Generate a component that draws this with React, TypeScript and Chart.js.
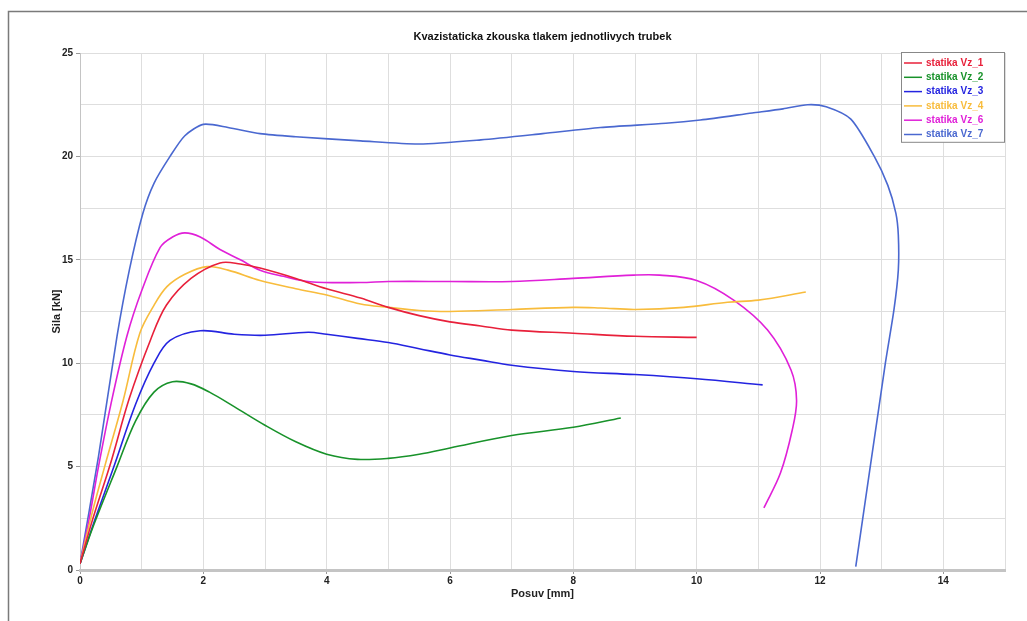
import React, { useEffect, useRef } from "react";
import { Chart, registerables } from "chart.js";

Chart.register(...registerables);

const TITLE = "Kvazistaticka zkouska tlakem jednotlivych trubek";
const X_TITLE = "Posuv [mm]";
const Y_TITLE = "Sila [kN]";

const labels = ["statika Vz_1", "statika Vz_2", "statika Vz_3", "statika Vz_4", "statika Vz_6", "statika Vz_7"];
const colors = ["#e8203a", "#18922a", "#2424e0", "#f8bc3c", "#e020d8", "#4a68d0"];

const vz1X = [0, 0.2, 0.5, 0.8, 1.14, 1.4, 1.8, 2.27, 2.6, 2.92, 3.5, 4.0, 4.55, 5.0, 5.5, 6.0, 6.5, 7, 8, 9, 10];
const vz1Y = [0.3, 2.4, 5.2, 8.3, 11.1, 12.8, 14.1, 14.85, 14.8, 14.6, 14.1, 13.6, 13.15, 12.7, 12.3, 12.0, 11.8, 11.6, 11.45, 11.3, 11.25];

const vz2X = [0, 0.2, 0.6, 0.9, 1.2, 1.5, 1.8, 2.1, 2.5, 3, 3.5, 4, 4.5, 5, 5.5, 6, 7, 8, 8.77];
const vz2Y = [0.3, 2.0, 5.0, 7.2, 8.6, 9.1, 9.0, 8.6, 7.9, 7.0, 6.2, 5.6, 5.35, 5.4, 5.6, 5.9, 6.5, 6.9, 7.35];

const vz3X = [0, 0.25, 0.55, 0.9, 1.2, 1.46, 1.95, 2.5, 3, 3.7, 4, 4.5, 5, 5.5, 6, 6.5, 7, 8, 9, 10, 11.07];
const vz3Y = [0.3, 2.5, 5.0, 8.0, 10.0, 11.1, 11.57, 11.4, 11.35, 11.5, 11.4, 11.2, 11.0, 10.7, 10.4, 10.15, 9.9, 9.6, 9.45, 9.25, 8.95];

const vz4X = [0, 0.2, 0.4, 0.7, 0.97, 1.2, 1.41, 1.7, 2.06, 2.4, 2.92, 3.5, 4.0, 4.55, 5, 5.5, 6, 7, 8, 8.44, 9, 9.79, 10.5, 11, 11.77];
const vz4Y = [0.3, 2.8, 5.0, 8.2, 11.45, 12.8, 13.7, 14.3, 14.67, 14.5, 14.0, 13.6, 13.3, 12.86, 12.7, 12.55, 12.5, 12.6, 12.7, 12.67, 12.6, 12.7, 12.95, 13.05, 13.44];

const vz6X = [0, 0.15, 0.3, 0.5, 0.76, 1.0, 1.3, 1.5, 1.7, 1.95, 2.27, 2.6, 2.92, 3.3, 3.73, 4.55, 5, 6, 7, 8, 8.98, 9.4, 10, 10.6, 11.15, 11.53, 11.62, 11.55, 11.36, 11.09];
const vz6Y = [0.3, 2.5, 5.0, 8.0, 11.3, 13.5, 15.6, 16.1, 16.3, 16.1, 15.5, 15.0, 14.5, 14.2, 13.94, 13.9, 13.95, 13.95, 13.95, 14.1, 14.26, 14.26, 14.0, 13.05, 11.6, 9.67, 8.2, 6.77, 4.7, 3.0];

const vz7X = [0, 0.3, 0.6, 0.8, 1.02, 1.2, 1.46, 1.7, 2.0, 2.4, 2.92, 3.5, 4.55, 5.5, 6.5, 7.5, 8.44, 9.5, 10.06, 10.9, 11.4, 11.8, 12.1, 12.5, 12.88, 13.1, 13.23, 13.27, 13.27, 13.2, 13.06, 12.58];
const vz7Y = [0.3, 5.5, 11.3, 14.5, 17.25, 18.7, 20.0, 21.0, 21.55, 21.4, 21.1, 20.95, 20.75, 20.6, 20.8, 21.1, 21.4, 21.6, 21.76, 22.1, 22.3, 22.5, 22.4, 21.8, 20.0, 18.6, 17.26, 16.2, 14.5, 12.6, 10.0, 0.16];

const seriesX = [vz1X, vz2X, vz3X, vz4X, vz6X, vz7X];
const seriesY = [vz1Y, vz2Y, vz3Y, vz4Y, vz6Y, vz7Y];

const FONT = "'Liberation Sans', Arial, sans-serif";

const decorPlugin = {
  id: "decor",
  afterDraw(chart: any) {
    const { ctx, chartArea } = chart;
    ctx.save();
    ctx.strokeStyle = "#7a7a7a";
    ctx.lineWidth = 1.5;
    ctx.beginPath();
    ctx.moveTo(8.5, 621);
    ctx.lineTo(8.5, 11.5);
    ctx.lineTo(1027, 11.5);
    ctx.stroke();
    ctx.fillStyle = "#111";
    ctx.font = `bold 11px ${FONT}`;
    ctx.textAlign = "center";
    ctx.textBaseline = "middle";
    ctx.fillText(TITLE, (chartArea.left + chartArea.right) / 2, 37);
    const ds = chart.data.datasets;
    const bx = 901.5, by = 52.5, bw = 103, rowH = 14.3;
    const bh = ds.length * rowH + 4;
    ctx.fillStyle = "#ffffff";
    ctx.fillRect(bx, by, bw, bh);
    ctx.strokeStyle = "#888";
    ctx.lineWidth = 1;
    ctx.strokeRect(bx, by, bw, bh);
    ctx.font = `bold 10px ${FONT}`;
    ctx.textAlign = "left";
    ds.forEach((d: any, i: number) => {
      const y = 63 + i * rowH;
      ctx.strokeStyle = d.borderColor;
      ctx.lineWidth = 1.5;
      ctx.beginPath();
      ctx.moveTo(904, y);
      ctx.lineTo(922, y);
      ctx.stroke();
      ctx.fillStyle = d.borderColor;
      ctx.fillText(d.label, 926, y);
    });
    ctx.restore();
  },
};

export default function App() {
  const ref = useRef<HTMLCanvasElement>(null);
  useEffect(() => {
    if (!ref.current) return;
    const datasets = labels.map((lab, i) => ({
      label: lab,
      data: seriesX[i].map((x, j) => ({ x, y: seriesY[i][j] })),
      borderColor: colors[i],
      backgroundColor: colors[i],
      borderWidth: 1.6,
      pointRadius: 0,
      showLine: true,
      tension: i === 5 ? 0.25 : 0.35,
      fill: false,
    }));
    const chart = new Chart(ref.current, {
      type: "scatter",
      data: { datasets },
      plugins: [decorPlugin],
      options: {
        animation: false,
        responsive: false,
        layout: { padding: { left: 0, right: 22, top: 53, bottom: 0 } },
        plugins: {
          legend: { display: false },
          title: { display: false },
          tooltip: { enabled: false },
        },
        scales: {
          x: {
            type: "linear",
            min: 0,
            max: 15,
            afterFit: (s: any) => { s.height = 51; },
            border: { color: "#c4c4c4", width: 3 },
            grid: {
              color: "#dedede",
              lineWidth: 1,
              tickLength: 4,
              tickColor: (c: any) => (c.tick && c.tick.value % 2 === 0 ? "#999" : "rgba(0,0,0,0)"),
            },
            ticks: {
              stepSize: 1,
              autoSkip: false,
              maxRotation: 0,
              padding: 1,
              color: "#222",
              font: { family: FONT, size: 10, weight: "bold" },
              callback: (v: any) => (Number(v) % 2 === 0 && Number(v) < 15 ? String(v) : ""),
            },
            title: {
              display: true,
              text: X_TITLE,
              color: "#222",
              font: { family: FONT, size: 11, weight: "bold" },
              padding: { top: 0, bottom: 20 },
            },
          },
          y: {
            type: "linear",
            min: 0,
            max: 25,
            afterFit: (s: any) => { s.width = 80; },
            border: { color: "#c4c4c4", width: 1 },
            grid: {
              color: "#dedede",
              lineWidth: 1,
              tickLength: 4,
              tickColor: (c: any) => (c.tick && c.tick.value % 5 === 0 ? "#999" : "rgba(0,0,0,0)"),
            },
            ticks: {
              stepSize: 2.5,
              autoSkip: false,
              padding: 3,
              color: "#222",
              font: { family: FONT, size: 10, weight: "bold" },
              callback: (v: any) => (Number(v) % 5 === 0 ? String(v) : ""),
            },
            title: {
              display: true,
              text: Y_TITLE,
              color: "#222",
              font: { family: FONT, size: 11, weight: "bold" },
              padding: { top: 50, bottom: 0 },
            },
          },
        },
      },
    });
    return () => chart.destroy();
  }, []);
  return (
    <div style={{ position: "fixed", left: 0, top: 0, width: 1027, height: 621, background: "#fff" }}>
      <canvas ref={ref} width={1027} height={621} style={{ width: 1027, height: 621 }} />
    </div>
  );
}
